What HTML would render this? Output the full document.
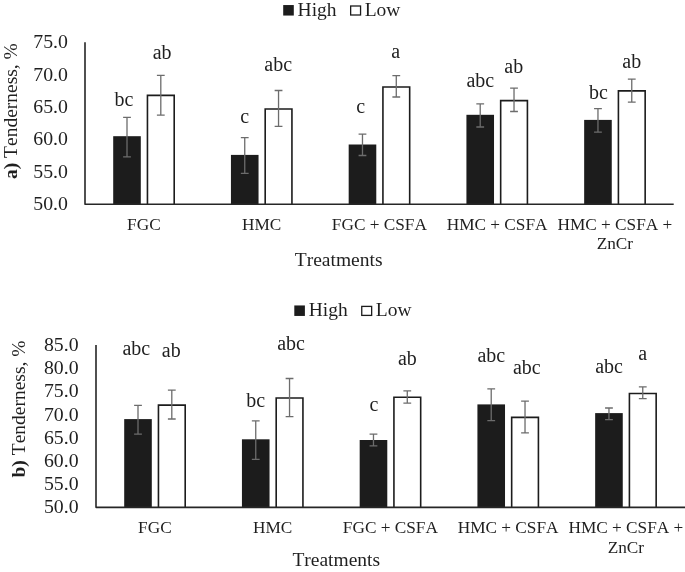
<!DOCTYPE html>
<html><head><meta charset="utf-8"><title>Tenderness</title>
<style>
html,body{margin:0;padding:0;background:#fff;overflow:hidden;}
svg{display:block;will-change:transform;font-kerning:none;font-family:"Liberation Serif","DejaVu Serif",serif;fill:#1f1f1f;}
</style></head>
<body>
<svg width="685" height="572" viewBox="0 0 685 572">
<rect x="0" y="0" width="685" height="572" fill="#ffffff"/>
<rect x="113.20" y="136.20" width="27.6" height="67.90" fill="#1c1c1c"/>
<path d="M147.45 204.10V95.40H174.20V204.10" fill="#fff" stroke="#1c1c1c" stroke-width="1.6"/>
<rect x="230.94" y="154.90" width="27.6" height="49.20" fill="#1c1c1c"/>
<path d="M265.19 204.10V109.00H291.94V204.10" fill="#fff" stroke="#1c1c1c" stroke-width="1.6"/>
<rect x="348.68" y="144.50" width="27.6" height="59.60" fill="#1c1c1c"/>
<path d="M382.93 204.10V87.00H409.68V204.10" fill="#fff" stroke="#1c1c1c" stroke-width="1.6"/>
<rect x="466.42" y="114.80" width="27.6" height="89.30" fill="#1c1c1c"/>
<path d="M500.67 204.10V100.60H527.42V204.10" fill="#fff" stroke="#1c1c1c" stroke-width="1.6"/>
<rect x="584.16" y="119.90" width="27.6" height="84.20" fill="#1c1c1c"/>
<path d="M618.41 204.10V90.90H645.16V204.10" fill="#fff" stroke="#1c1c1c" stroke-width="1.6"/>
<path d="M85 42.3V204.25H673.7" stroke="#262626" stroke-width="1.6" stroke-linejoin="round" fill="none"/>
<path d="M127.00 117.30V156.80M123.10 117.30H130.90M123.10 156.80H130.90" stroke="#6c6c6c" stroke-width="1.3" fill="none"/>
<path d="M160.80 75.30V115.10M156.90 75.30H164.70M156.90 115.10H164.70" stroke="#6c6c6c" stroke-width="1.3" fill="none"/>
<path d="M244.74 137.70V173.30M240.84 137.70H248.64M240.84 173.30H248.64" stroke="#6c6c6c" stroke-width="1.3" fill="none"/>
<path d="M278.54 90.50V126.40M274.64 90.50H282.44M274.64 126.40H282.44" stroke="#6c6c6c" stroke-width="1.3" fill="none"/>
<path d="M362.48 134.20V155.50M358.58 134.20H366.38M358.58 155.50H366.38" stroke="#6c6c6c" stroke-width="1.3" fill="none"/>
<path d="M396.28 75.60V97.00M392.38 75.60H400.18M392.38 97.00H400.18" stroke="#6c6c6c" stroke-width="1.3" fill="none"/>
<path d="M480.22 103.80V127.00M476.32 103.80H484.12M476.32 127.00H484.12" stroke="#6c6c6c" stroke-width="1.3" fill="none"/>
<path d="M514.02 88.20V111.50M510.12 88.20H517.92M510.12 111.50H517.92" stroke="#6c6c6c" stroke-width="1.3" fill="none"/>
<path d="M597.96 108.60V132.20M594.06 108.60H601.86M594.06 132.20H601.86" stroke="#6c6c6c" stroke-width="1.3" fill="none"/>
<path d="M631.76 79.20V102.10M627.86 79.20H635.66M627.86 102.10H635.66" stroke="#6c6c6c" stroke-width="1.3" fill="none"/>
<text transform="translate(123.85 105.95) scale(1 1.08)" text-anchor="middle" font-size="20.0">bc</text>
<text transform="translate(162.10 59.35) scale(1 1.08)" text-anchor="middle" font-size="20.0">ab</text>
<text transform="translate(244.80 123.35) scale(1 1.08)" text-anchor="middle" font-size="20.0">c</text>
<text transform="translate(278.20 71.05) scale(1 1.08)" text-anchor="middle" font-size="20.0">abc</text>
<text transform="translate(360.80 113.45) scale(1 1.08)" text-anchor="middle" font-size="20.0">c</text>
<text transform="translate(395.75 58.45) scale(1 1.08)" text-anchor="middle" font-size="20.0">a</text>
<text transform="translate(480.35 87.25) scale(1 1.08)" text-anchor="middle" font-size="20.0">abc</text>
<text transform="translate(513.80 73.35) scale(1 1.08)" text-anchor="middle" font-size="20.0">ab</text>
<text transform="translate(598.35 99.15) scale(1 1.08)" text-anchor="middle" font-size="20.0">bc</text>
<text transform="translate(631.70 68.15) scale(1 1.08)" text-anchor="middle" font-size="20.0">ab</text>
<text x="67.9" y="48.30" text-anchor="end" font-size="19.8">75.0</text>
<text x="67.9" y="80.66" text-anchor="end" font-size="19.8">70.0</text>
<text x="67.9" y="113.02" text-anchor="end" font-size="19.8">65.0</text>
<text x="67.9" y="145.38" text-anchor="end" font-size="19.8">60.0</text>
<text x="67.9" y="177.74" text-anchor="end" font-size="19.8">55.0</text>
<text x="67.9" y="210.10" text-anchor="end" font-size="19.8">50.0</text>
<text x="143.90" y="229.8" text-anchor="middle" font-size="17.25">FGC</text>
<text x="261.64" y="229.8" text-anchor="middle" font-size="17.25">HMC</text>
<text x="379.38" y="229.8" text-anchor="middle" font-size="17.25">FGC + CSFA</text>
<text x="497.12" y="229.8" text-anchor="middle" font-size="17.25">HMC + CSFA</text>
<text x="614.86" y="229.8" text-anchor="middle" font-size="17.25">HMC + CSFA +</text>
<text x="614.86" y="249.3" text-anchor="middle" font-size="17.25">ZnCr</text>
<text x="294.8" y="265.7" font-size="19.5">Treatments</text>
<rect x="283.2" y="5.05" width="10.6" height="10.5" fill="#1c1c1c"/>
<text x="297.60" y="15.65" font-size="19.5">High</text>
<rect x="350.65" y="6.00" width="9.90" height="9.00" fill="#fff" stroke="#1c1c1c" stroke-width="1.3"/>
<text x="364.70" y="15.65" font-size="19.5">Low</text>
<text transform="translate(17.3 111.1) rotate(-90)" text-anchor="middle" font-size="19.5"><tspan font-weight="bold">a)</tspan> Tenderness, %</text>
<rect x="124.20" y="419.10" width="27.6" height="88.10" fill="#1c1c1c"/>
<path d="M158.45 507.20V405.10H185.20V507.20" fill="#fff" stroke="#1c1c1c" stroke-width="1.6"/>
<rect x="241.94" y="439.30" width="27.6" height="67.90" fill="#1c1c1c"/>
<path d="M276.19 507.20V398.00H302.94V507.20" fill="#fff" stroke="#1c1c1c" stroke-width="1.6"/>
<rect x="359.68" y="440.00" width="27.6" height="67.20" fill="#1c1c1c"/>
<path d="M393.93 507.20V397.30H420.68V507.20" fill="#fff" stroke="#1c1c1c" stroke-width="1.6"/>
<rect x="477.42" y="404.40" width="27.6" height="102.80" fill="#1c1c1c"/>
<path d="M511.67 507.20V417.40H538.42V507.20" fill="#fff" stroke="#1c1c1c" stroke-width="1.6"/>
<rect x="595.16" y="413.10" width="27.6" height="94.10" fill="#1c1c1c"/>
<path d="M629.41 507.20V393.50H656.16V507.20" fill="#fff" stroke="#1c1c1c" stroke-width="1.6"/>
<path d="M96 345V507.34999999999997H685" stroke="#262626" stroke-width="1.6" stroke-linejoin="round" fill="none"/>
<path d="M138.00 405.40V434.20M134.10 405.40H141.90M134.10 434.20H141.90" stroke="#6c6c6c" stroke-width="1.3" fill="none"/>
<path d="M171.80 390.20V419.00M167.90 390.20H175.70M167.90 419.00H175.70" stroke="#6c6c6c" stroke-width="1.3" fill="none"/>
<path d="M255.74 420.90V459.40M251.84 420.90H259.64M251.84 459.40H259.64" stroke="#6c6c6c" stroke-width="1.3" fill="none"/>
<path d="M289.54 378.50V416.70M285.64 378.50H293.44M285.64 416.70H293.44" stroke="#6c6c6c" stroke-width="1.3" fill="none"/>
<path d="M373.48 434.20V445.80M369.58 434.20H377.38M369.58 445.80H377.38" stroke="#6c6c6c" stroke-width="1.3" fill="none"/>
<path d="M407.28 390.80V403.10M403.38 390.80H411.18M403.38 403.10H411.18" stroke="#6c6c6c" stroke-width="1.3" fill="none"/>
<path d="M491.22 388.90V420.60M487.32 388.90H495.12M487.32 420.60H495.12" stroke="#6c6c6c" stroke-width="1.3" fill="none"/>
<path d="M525.02 401.20V432.90M521.12 401.20H528.92M521.12 432.90H528.92" stroke="#6c6c6c" stroke-width="1.3" fill="none"/>
<path d="M608.96 408.00V419.60M605.06 408.00H612.86M605.06 419.60H612.86" stroke="#6c6c6c" stroke-width="1.3" fill="none"/>
<path d="M642.76 386.90V398.60M638.86 386.90H646.66M638.86 398.60H646.66" stroke="#6c6c6c" stroke-width="1.3" fill="none"/>
<text transform="translate(136.30 354.55) scale(1 1.08)" text-anchor="middle" font-size="20.0">abc</text>
<text transform="translate(171.20 356.85) scale(1 1.08)" text-anchor="middle" font-size="20.0">ab</text>
<text transform="translate(255.80 407.05) scale(1 1.08)" text-anchor="middle" font-size="20.0">bc</text>
<text transform="translate(291.10 350.05) scale(1 1.08)" text-anchor="middle" font-size="20.0">abc</text>
<text transform="translate(373.90 410.85) scale(1 1.08)" text-anchor="middle" font-size="20.0">c</text>
<text transform="translate(407.40 364.85) scale(1 1.08)" text-anchor="middle" font-size="20.0">ab</text>
<text transform="translate(491.35 361.65) scale(1 1.08)" text-anchor="middle" font-size="20.0">abc</text>
<text transform="translate(526.75 373.95) scale(1 1.08)" text-anchor="middle" font-size="20.0">abc</text>
<text transform="translate(609.05 372.95) scale(1 1.08)" text-anchor="middle" font-size="20.0">abc</text>
<text transform="translate(642.80 360.05) scale(1 1.08)" text-anchor="middle" font-size="20.0">a</text>
<text x="78.6" y="351.00" text-anchor="end" font-size="19.8">85.0</text>
<text x="78.6" y="374.17" text-anchor="end" font-size="19.8">80.0</text>
<text x="78.6" y="397.34" text-anchor="end" font-size="19.8">75.0</text>
<text x="78.6" y="420.51" text-anchor="end" font-size="19.8">70.0</text>
<text x="78.6" y="443.69" text-anchor="end" font-size="19.8">65.0</text>
<text x="78.6" y="466.86" text-anchor="end" font-size="19.8">60.0</text>
<text x="78.6" y="490.03" text-anchor="end" font-size="19.8">55.0</text>
<text x="78.6" y="513.20" text-anchor="end" font-size="19.8">50.0</text>
<text x="154.90" y="532.7" text-anchor="middle" font-size="17.25">FGC</text>
<text x="272.64" y="532.7" text-anchor="middle" font-size="17.25">HMC</text>
<text x="390.38" y="532.7" text-anchor="middle" font-size="17.25">FGC + CSFA</text>
<text x="508.12" y="532.7" text-anchor="middle" font-size="17.25">HMC + CSFA</text>
<text x="625.86" y="532.7" text-anchor="middle" font-size="17.25">HMC + CSFA +</text>
<text x="625.86" y="552.6" text-anchor="middle" font-size="17.25">ZnCr</text>
<text x="292.4" y="565.7" font-size="19.5">Treatments</text>
<rect x="294.3" y="305.45" width="10.6" height="10.5" fill="#1c1c1c"/>
<text x="308.70" y="316.05" font-size="19.5">High</text>
<rect x="361.75" y="306.40" width="9.90" height="9.00" fill="#fff" stroke="#1c1c1c" stroke-width="1.3"/>
<text x="375.80" y="316.05" font-size="19.5">Low</text>
<text transform="translate(25.0 409.0) rotate(-90)" text-anchor="middle" font-size="19.5"><tspan font-weight="bold">b)</tspan> Tenderness, %</text>
</svg>
</body></html>
